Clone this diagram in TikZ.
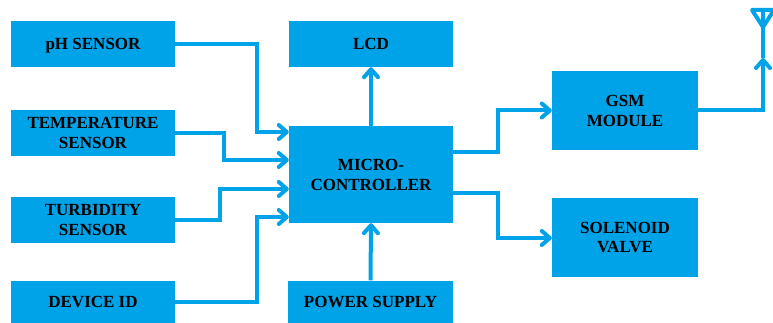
\documentclass[tikz,border=0pt]{standalone}
\usepackage{fontspec}
\setmainfont{Liberation Serif}
\usepackage{xcolor}
\usepackage{tikz}
\usetikzlibrary{arrows.meta}
\definecolor{boxblue}{RGB}{0,162,232}

\begin{document}
\begin{tikzpicture}[x=1pt,y=-1pt,
  blk/.style={fill=boxblue, inner sep=0pt, minimum width=164pt, minimum height=46pt,
    align=center, font=\fontsize{17}{20}\selectfont\bfseries},
  link/.style={draw=boxblue, line width=4pt, -{Straight Barb[length=8pt,width=14pt,round]}},
  wire/.style={draw=boxblue, line width=4pt}]
\useasboundingbox (0,0) rectangle (773,323);
\node (ph) at (93,44) [blk, text depth=0pt] {pH SENSOR};
\node (temp) at (93,133) [blk] {TEMPERATURE\\SENSOR};
\node (turb) at (93,220) [blk] {TURBIDITY\\SENSOR};
\node (devid) at (93,302) [blk, minimum height=43pt] {DEVICE ID};
\node (lcd) at (371,44) [blk] {LCD};
\node (mcu) at (371,174.5) [blk, minimum height=97pt] {MICRO-\\CONTROLLER};
\node (power) at (370.5,302) [blk, minimum width=165pt, minimum height=43pt] {POWER SUPPLY};
\node (gsm) at (625,110.5) [blk, minimum width=146pt, minimum height=79pt] {GSM\\MODULE};
\node (valve) at (625,237.5) [blk, minimum width=146pt, minimum height=79pt] {SOLENOID\\VALVE};
\coordinate (ant) at (763,58);
\coordinate (anttop) at (763,10);
\draw[link] (ph.east) -| (257,132) -- (mcu.west |- 0,132);
\draw[link] (temp.east) -| (224,160) -- (mcu.west |- 0,160);
\draw[link] (turb.east) -| (220,189) -- (mcu.west |- 0,189);
\draw[link] (devid.east) -| (257,217) -- (mcu.west |- 0,217);
\draw[link] (mcu.north) -- (lcd.south);
\draw[link] (power.north) -- (mcu.south);
\draw[link] (mcu.east |- 0,152) -| (498,110.5) -- (gsm.west);
\draw[link] (mcu.east |- 0,193) -| (498,238) -- (valve.west |- 0,238);
\draw[link] (gsm.east) -| (ant);
\draw[wire] (ant) -- (anttop);
\draw[wire, line join=round] (752,10) -- (774,10) -- (763,27) -- cycle;
\end{tikzpicture}
\end{document}
